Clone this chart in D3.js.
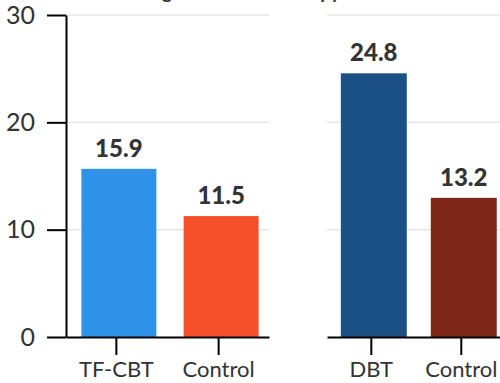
<!DOCTYPE html>
<html><head><meta charset="utf-8">
<script src="https://cdn.jsdelivr.net/npm/d3@7"></script>
<style>body{margin:0;background:#fff}svg{display:block}text{font-family:Lato,"Open Sans",sans-serif;fill:#333}</style>
</head><body>
<svg id="c" width="500" height="383"></svg>
<script>
const title = "Average treatment therapy sessions";
const leftCategories = ["TF-CBT", "Control"];
const leftValues = [15.9, 11.5];
const leftColors = ["#2E93E8", "#F5502B"];
const rightCategories = ["DBT", "Control"];
const rightValues = [24.8, 13.2];
const rightColors = ["#1A5084", "#7E2717"];
const yTicks = [0, 10, 20, 30];

const svg = d3.select("#c");
const y = d3.scaleLinear().domain([0, 30]).range([337, 15]);
const shift = 2.5;

svg.append("text").attr("x", 264).attr("y", -1).attr("text-anchor", "middle")
  .style("font-weight", "bold").style("font-size", "19px").text(title);

function panel(cats, vals, cols, x0, x1, showY) {
  const x = d3.scaleBand().domain(cats).range([x0, x1]).paddingInner(0.267).paddingOuter(0.126);
  const g = svg.append("g");
  g.selectAll(".grid").data(yTicks.filter(t => t > 0)).join("line")
    .attr("x1", x0).attr("x2", x1).attr("y1", d => y(d)).attr("y2", d => y(d))
    .attr("stroke", "#e6e6e6").attr("stroke-width", 1.5);
  g.selectAll(".bar").data(cats).join("rect")
    .attr("x", d => x(d) + shift)
    .attr("y", (d, i) => y(vals[i]) + shift)
    .attr("width", x.bandwidth())
    .attr("height", (d, i) => y(0) - y(vals[i]) - shift)
    .attr("fill", (d, i) => cols[i]);
  g.selectAll(".lbl").data(cats).join("text")
    .attr("x", d => x(d) + x.bandwidth() / 2 + shift)
    .attr("y", (d, i) => y(vals[i]) + shift - 12)
    .attr("text-anchor", "middle")
    .style("font-weight", "900").style("font-size", "24px")
    .text((d, i) => vals[i].toFixed(1));
  const xa = g.append("g").attr("transform", `translate(0,${y(0)})`)
    .call(d3.axisBottom(x).tickSize(18).tickPadding(6).tickSizeOuter(0));
  xa.select(".domain").attr("stroke", "#000").attr("stroke-width", 2);
  xa.selectAll(".tick line").attr("stroke", "#000").attr("stroke-width", 2);
  xa.selectAll("text").style("font-size", "22px").attr("fill", "#333")
    .style("font-family", "Lato, sans-serif");
  if (showY) {
    const ya = g.append("g").attr("transform", `translate(${x0},0)`)
      .call(d3.axisLeft(y).tickValues(yTicks).tickSize(19).tickPadding(12).tickSizeOuter(0));
    ya.select(".domain").attr("stroke", "#000").attr("stroke-width", 2);
    ya.selectAll(".tick line").attr("stroke", "#000").attr("stroke-width", 2);
    ya.selectAll("text").style("font-size", "25px").attr("fill", "#333")
      .style("font-family", "Lato, sans-serif");
  }
}
panel(leftCategories, leftValues, leftColors, 66, 269, true);
panel(rightCategories, rightValues, rightColors, 327, 505.6, false);
</script>
</body></html>
